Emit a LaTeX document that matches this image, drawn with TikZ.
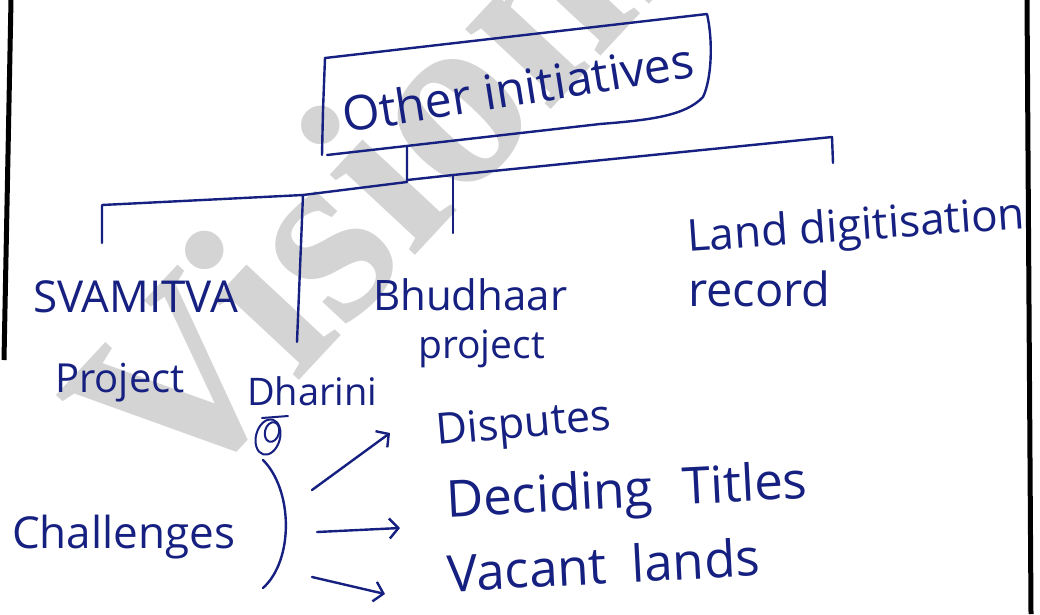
\documentclass[tikz,border=0pt]{standalone}
\usepackage{fontspec}
\setmainfont{Open Sans}
\newfontfamily\wmfont{Liberation Serif}
\usetikzlibrary{arrows.meta}
\definecolor{ink}{RGB}{22,32,128}
\definecolor{wm}{RGB}{212,212,212}
\tikzset{
  pen/.style={draw=ink, line width=2.4pt, line cap=round, line join=round},
  lbl/.style={text=ink, inner sep=0pt, anchor=base west},
  arr/.style={pen, -{Straight Barb[length=9pt,width=20pt]}},
  border/.style={draw=black, line width=5pt}
}
\newcommand{\fs}[1]{\fontsize{#1}{#1}\selectfont}
\begin{document}
\begin{tikzpicture}[x=1pt,y=-1pt]
\useasboundingbox (0,0) rectangle (1040,614);
\clip (0,0) rectangle (1040,614);
\fill[white] (0,0) rectangle (1040,614);
% watermark
\node[text=wm, inner sep=0pt, anchor=base west, rotate=47] (wmark) at (176,512) {\wmfont\bfseries\fs{255}VisionIAS};
% page borders
\draw[border] (11,0) -- (4,360);
\draw[border] (1027,0) -- (1031,614);
% title box
\coordinate (b1) at (325,58);
\coordinate (b2) at (707,14);
\coordinate (b3) at (703,97);
\coordinate (b4) at (327,155);
\draw[pen] (b1) -- (b2) .. controls (713,40) and (712,78) .. (b3)
  .. controls (685,116) and (650,120) .. (600,124) -- (b4);
\draw[pen] (b1) -- (323,110) -- (322,155);
\node[lbl, rotate=9] (init) at (345,133) {\fs{48}Other initiatives};
% tree connectors
\coordinate (top) at (407,147);
\coordinate (jn) at (407,182);
\coordinate (jl) at (303,195);
\coordinate (jr) at (832,137);
\coordinate (l1) at (102,205);
\coordinate (l1e) at (102,243);
\coordinate (jd) at (297,342);
\coordinate (jb) at (453,175);
\coordinate (jbe) at (453,233);
\coordinate (jre) at (833,163);
\draw[pen] (top) -- (jn) -- (jl) -- (l1) -- (l1e);
\draw[pen] (jl) -- (jd);
\draw[pen] (407,180) -- (jb) -- (jr) -- (jre);
\draw[pen] (jb) -- (jbe);
% branch labels
\node[lbl] (svam) at (33,312) {\fs{44}SVAMITVA};
\node[lbl] (proj1) at (55,392) {\fs{40}Project};
\node[lbl] (dhar) at (247,405) {\fs{38}Dharini};
\node[lbl] (bhud) at (373,310) {\fs{42}Bhudhaar};
\node[lbl] (proj2) at (418,358) {\fs{39}project};
\node[lbl, rotate=4] (land) at (688,252) {\fs{44}Land digitisation};
\node[lbl] (rec) at (688,306) {\fs{47}record};
% scribble under Dharini
\draw[pen, line width=2pt] (268,437) ellipse [x radius=12, y radius=18, rotate=-15];
\draw[pen, line width=2pt] (272,432) ellipse [x radius=7, y radius=10, rotate=-15];
\draw[pen, line width=2pt] (262,418) -- (288,416);
% challenges
\node[lbl] (chal) at (12,548) {\fs{44}Challenges};
\coordinate (brt) at (263,460);
\coordinate (brb) at (263,588);
\draw[pen] (brt) .. controls (293,490) and (294,560) .. (brb);
\node[lbl, rotate=5] (disp) at (437,445) {\fs{43}Disputes};
\node[lbl, rotate=3] (deci) at (447,517) {\fs{51}Deciding\hspace{30pt}Titles};
\node[lbl, rotate=3] (vac) at (448,592) {\fs{51}Vacant\hspace{25pt}lands};
\coordinate (a1s) at (312,490);
\coordinate (a1e) at (390,433);
\coordinate (a2s) at (317,532);
\coordinate (a2e) at (400,528);
\coordinate (a3s) at (312,577);
\coordinate (a3e) at (385,594);
\draw[arr] (a1s) -- (a1e);
\draw[arr] (a2s) -- (a2e);
\draw[arr] (a3s) -- (a3e);
\end{tikzpicture}
\end{document}
